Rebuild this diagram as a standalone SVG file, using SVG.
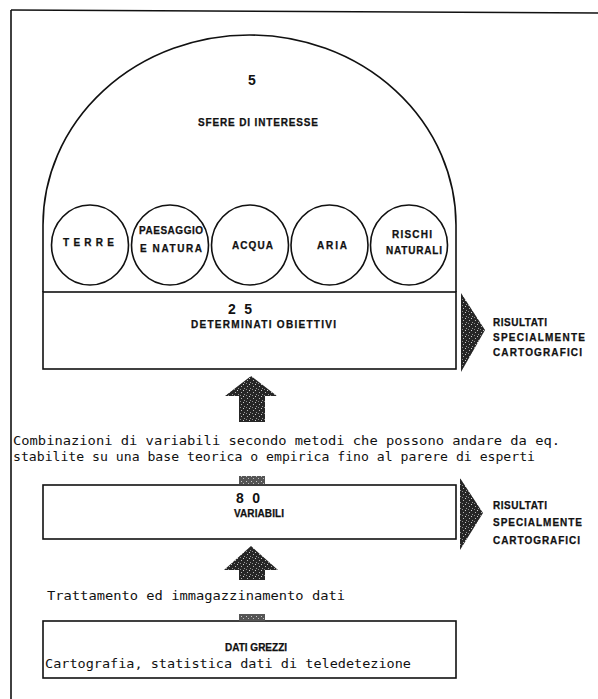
<svg xmlns="http://www.w3.org/2000/svg" width="598" height="699" viewBox="0 0 598 699">
  <defs>
    <pattern id="grain" width="6" height="6" patternUnits="userSpaceOnUse">
      <rect width="6" height="6" fill="#262626"/>
      <rect x="1" y="2" width="1" height="1" fill="#b8b8b8"/>
      <rect x="4" y="4" width="1" height="1" fill="#9a9a9a"/>
      <rect x="3" y="0" width="1" height="1" fill="#cfcfcf"/>
      <rect x="0" y="5" width="1" height="1" fill="#8a8a8a"/>
    </pattern>
    <pattern id="grainLight" width="5" height="5" patternUnits="userSpaceOnUse">
      <rect width="5" height="5" fill="#555"/>
      <rect x="1" y="1" width="1" height="1" fill="#ccc"/>
      <rect x="3" y="3" width="1" height="1" fill="#bbb"/>
    </pattern>
  </defs>
  <style>
    .line { fill: none; stroke: #111; stroke-width: 1.6; }
    .box { fill: #fff; stroke: #111; stroke-width: 1.6; }
    .lbl { font-family: "Liberation Sans", Arial, sans-serif; font-weight: bold; font-size: 10px; fill: #111; stroke: #111; stroke-width: 0.25; }
    .num { font-family: "Liberation Sans", Arial, sans-serif; font-weight: bold; font-size: 14px; fill: #111; }
    .type { font-family: "DejaVu Sans Mono", "Liberation Mono", monospace; font-size: 13px; fill: #111; }
    .up { fill: url(#grain); }
    .right { fill: url(#grain); }
    .stub { fill: url(#grainLight); }
  </style>

  <rect width="598" height="699" fill="#fff"/>

  <!-- page border (top and left rules) -->
  <g id="frame">
    <line class="line" x1="11" y1="10" x2="598" y2="13"/>
    <line class="line" x1="11" y1="10" x2="11" y2="699"/>
  </g>

  <!-- dome: five spheres of interest -->
  <g id="spheres">
    <path class="line" d="M43,292 L43,225 A206.5,190 0 0 1 456,225 L456,292"/>
    <text class="num" x="252" y="85" text-anchor="middle">5</text>
    <text class="lbl" x="198" y="125.5" textLength="120" lengthAdjust="spacing">SFERE DI INTERESSE</text>
  </g>

  <g id="terre">
    <ellipse class="line" cx="90" cy="245" rx="38.5" ry="40"/>
    <text class="lbl" x="63" y="245.5" textLength="51" lengthAdjust="spacing">TERRE</text>
  </g>
  <g id="paesaggio">
    <ellipse class="line" cx="170" cy="245" rx="38.5" ry="40"/>
    <text class="lbl" x="139" y="233.5" textLength="64" lengthAdjust="spacing">PAESAGGIO</text>
    <text class="lbl" x="140" y="251.5" textLength="62" lengthAdjust="spacing">E NATURA</text>
  </g>
  <g id="acqua">
    <ellipse class="line" cx="250" cy="245" rx="38.5" ry="40"/>
    <text class="lbl" x="232" y="248.5" textLength="41" lengthAdjust="spacing">ACQUA</text>
  </g>
  <g id="aria">
    <ellipse class="line" cx="329.5" cy="245" rx="38.5" ry="40"/>
    <text class="lbl" x="317" y="248.5" textLength="30" lengthAdjust="spacing">ARIA</text>
  </g>
  <g id="rischi">
    <ellipse class="line" cx="409" cy="245" rx="38.5" ry="40"/>
    <text class="lbl" x="392" y="237.5" textLength="40" lengthAdjust="spacing">RISCHI</text>
    <text class="lbl" x="386" y="253.5" textLength="56" lengthAdjust="spacing">NATURALI</text>
  </g>

  <!-- 25 objectives -->
  <g id="obiettivi">
    <rect class="box" x="43" y="292" width="413" height="77"/>
    <text class="num" x="228" y="314" textLength="24" lengthAdjust="spacing">2 5</text>
    <text class="lbl" x="191" y="327.5" textLength="145" lengthAdjust="spacing">DETERMINATI OBIETTIVI</text>
  </g>

  <g id="risultati1">
    <text class="lbl" x="493" y="325.5" textLength="54" lengthAdjust="spacing">RISULTATI</text>
    <text class="lbl" x="493" y="340.5" textLength="92" lengthAdjust="spacing">SPECIALMENTE</text>
    <text class="lbl" x="493" y="355.5" textLength="89" lengthAdjust="spacing">CARTOGRAFICI</text>
  </g>

  <!-- 80 variables -->
  <g id="variabili">
    <rect class="box" x="43" y="485" width="413" height="54"/>
    <text class="num" x="236" y="503" textLength="24" lengthAdjust="spacing">8 0</text>
    <text class="lbl" x="234" y="517" textLength="50" lengthAdjust="spacing">VARIABILI</text>
  </g>

  <g id="risultati2">
    <text class="lbl" x="493" y="508.5" textLength="54" lengthAdjust="spacing">RISULTATI</text>
    <text class="lbl" x="493" y="526" textLength="89" lengthAdjust="spacing">SPECIALMENTE</text>
    <text class="lbl" x="493" y="543.5" textLength="87" lengthAdjust="spacing">CARTOGRAFICI</text>
  </g>

  <!-- raw data -->
  <g id="dati">
    <rect class="box" x="43" y="621" width="413" height="57"/>
    <text class="lbl" x="225" y="651" font-size="9">DATI GREZZI</text>
    <text class="type" x="45" y="668" textLength="366" lengthAdjust="spacingAndGlyphs">Cartografia, statistica dati di teledetezione</text>
  </g>

  <!-- process notes -->
  <g id="note-combinazioni">
    <text class="type" x="13" y="445" textLength="547" lengthAdjust="spacingAndGlyphs">Combinazioni di variabili secondo metodi che possono andare da eq.</text>
    <text class="type" x="13" y="461" textLength="522" lengthAdjust="spacingAndGlyphs">stabilite su una base teorica o empirica fino al parere di esperti</text>
  </g>
  <g id="note-trattamento">
    <text class="type" x="47" y="600" textLength="298" lengthAdjust="spacingAndGlyphs">Trattamento ed immagazzinamento dati</text>
  </g>

  <!-- connectors -->
  <g id="connectors">
    <path class="up" d="M251,376 L277,396 L265,396 L265,422 L239,422 L239,396 L225,396 Z"/>
    <path class="up" d="M251,546 L278,570 L265,570 L265,580 L239,580 L239,570 L224,570 Z"/>
    <rect class="stub" x="239" y="476" width="26" height="8"/>
    <rect class="stub" x="239" y="614" width="26" height="7"/>
    <path class="right" d="M461,293 L485,330 L461,372 Z"/>
    <path class="right" d="M460,478 L483,513 L460,550 Z"/>
  </g>
</svg>
